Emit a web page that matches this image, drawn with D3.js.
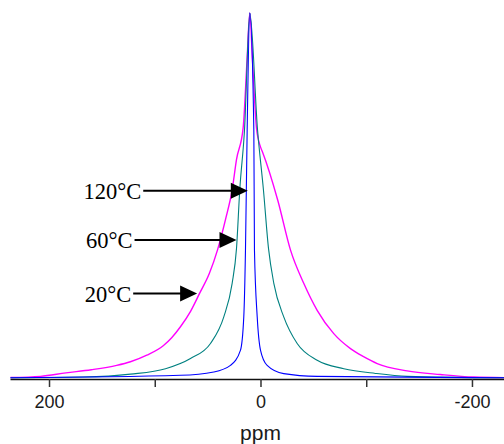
<!DOCTYPE html>
<html>
<head>
<meta charset="utf-8">
<script src="https://cdn.jsdelivr.net/npm/d3@7"></script>
<style>
  html, body { margin: 0; padding: 0; background: #fff; }
  svg { display: block; }
</style>
</head>
<body>
<svg id="chart" width="504" height="444"></svg>
<script>
// ---- data (ppm, normalized intensity) ----
const ppm120 = [236.4, 75.6, 44.2, 28.4, 18.9, 15.8, 14.2, 12.6, 10.1, 6.3, 5.7, 3.1, 0, -6.3, -22, -53.6, -230.7];
const int120 = [0, 0.0069, 0.016, 0.034, 0.076, 0.167, 0.35, 0.68, 1.0, 0.68, 0.35, 0.167, 0.076, 0.034, 0.0115, 0.004, 0];

const ppm60 = [236.4, 167.4, 122.9, 89.8, 66.2, 47.3, 34.7, 26.8, 22.7, 19.6, 15.1, 10.1, 2.8, -2.8, -7.6, -12.6, -22.0, -34.7, -53.6, -78.8, -108.7, -138.7, -230.7];
const int60 = [0, 0.002, 0.010, 0.025, 0.053, 0.094, 0.167, 0.259, 0.354, 0.515, 0.68, 1.0, 0.68, 0.515, 0.354, 0.259, 0.167, 0.094, 0.048, 0.025, 0.012, 0.004, 0];

const ppm20 = [236.4, 208, 184, 160, 136, 123, 107.5, 92, 84, 75.7, 66, 57.5, 48.5, 40.7, 33, 26.8, 22.7, 16.4, 12.7, 10.1, 7.6, 3.8, 0, -1.9, -16.4, -28.4, -40.9, -53.6, -69.3, -85.1, -97.5, -110.4, -138.7, -170.2, -201.7, -230.7];
const int20 = [0.0008, 0.004, 0.0135, 0.022, 0.034, 0.044, 0.062, 0.088, 0.11, 0.140, 0.183, 0.232, 0.285, 0.350, 0.435, 0.515, 0.598, 0.685, 0.872, 1.0, 0.872, 0.685, 0.633, 0.619, 0.486, 0.350, 0.259, 0.185, 0.121, 0.080, 0.058, 0.039, 0.019, 0.009, 0.002, 0.0005];

const seriesNames = ["20°C", "60°C", "120°C"];
const seriesColors = ["#ff00ff", "#008080", "#0000ff"];

const tickValues = [200, 100, 0, -100, -200];
const tickLabels = ["200", "", "0", "", "-200"];
const xTitle = "ppm";

// annotation arrows: [label, start ppm, tip ppm, intensity]
const annLabels = ["120°C", "60°C", "20°C"];
const annStart = [110.9, 119.1, 120.4];
const annTip = [12.0, 22.7, 59.9];
const annInt = [0.513, 0.378, 0.231];

// ---- scales ----
const svg = d3.select("#chart");
const x = d3.scaleLinear().domain([236.9, -230.3]).range([10, 504]);
const y = d3.scaleLinear().domain([0, 1]).range([377.8, 13]);

svg.append("defs").append("clipPath").attr("id", "clip")
  .append("rect").attr("x", 10).attr("y", 0).attr("width", 494).attr("height", 380);

const line = d3.line()
  .x(d => x(d[0])).y(d => y(d[1]))
  .curve(d3.curveMonotoneX);

const data = [
  d3.zip(ppm20, int20),
  d3.zip(ppm60, int60),
  d3.zip(ppm120, int120)
];

const g = svg.append("g").attr("clip-path", "url(#clip)");
data.forEach((d, i) => {
  g.append("path")
    .datum(d)
    .attr("d", line)
    .attr("fill", "none")
    .attr("stroke", seriesColors[i])
    .attr("stroke-width", i === 0 ? 1.4 : 1.1)
    .attr("stroke-linejoin", "round");
});

// ---- axis ----
const axis = d3.axisBottom(x)
  .tickValues(tickValues)
  .tickFormat((d, i) => tickLabels[i])
  .tickSizeInner(8)
  .tickSizeOuter(0)
  .tickPadding(8);

const ax = svg.append("g").attr("transform", "translate(0,379)").call(axis);
ax.select(".domain").attr("stroke", "#111").attr("stroke-width", 1.6);
ax.selectAll(".tick line").attr("stroke", "#333").attr("stroke-width", 1.5);
ax.selectAll(".tick text")
  .attr("font-family", "Arial, 'Liberation Sans', sans-serif")
  .attr("font-size", 18)
  .attr("fill", "#1a1a1a");

svg.append("text")
  .attr("x", x(0))
  .attr("y", 440)
  .attr("text-anchor", "middle")
  .attr("font-family", "Arial, 'Liberation Sans', sans-serif")
  .attr("font-size", 21)
  .attr("fill", "#1a1a1a")
  .text(xTitle);

// ---- annotations ----
annLabels.forEach((lab, i) => {
  const yy = y(annInt[i]);
  const x0 = x(annStart[i]);
  const x1 = x(annTip[i]);
  const headLen = 17, headHalf = 8;
  svg.append("line")
    .attr("x1", x0).attr("x2", x1 - headLen + 1)
    .attr("y1", yy).attr("y2", yy)
    .attr("stroke", "#000").attr("stroke-width", 2);
  svg.append("path")
    .attr("d", `M${x1},${yy} L${x1 - headLen},${yy - headHalf} L${x1 - headLen},${yy + headHalf} Z`)
    .attr("fill", "#000");
  svg.append("text")
    .attr("x", x0 - 2)
    .attr("y", yy + 8.5)
    .attr("text-anchor", "end")
    .attr("font-family", "'Times New Roman', 'Liberation Serif', serif")
    .attr("font-size", 22.5)
    .attr("fill", "#000")
    .text(lab);
});
</script>
</body>
</html>
